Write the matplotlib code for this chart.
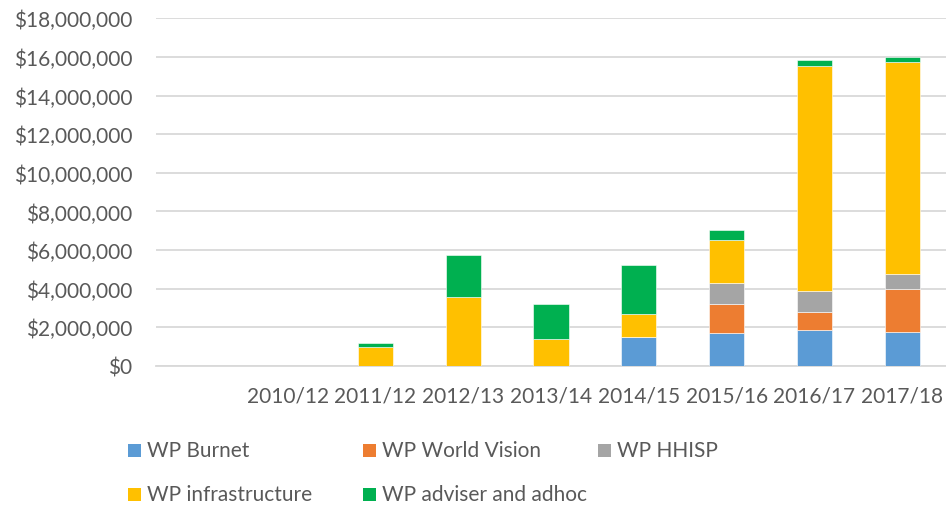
import numpy as np
import matplotlib.pyplot as plt
from matplotlib.patches import Rectangle
from matplotlib.ticker import FuncFormatter

# --- dados por ano (valores em $) ---
years = ["2010/12", "2011/12", "2012/13", "2013/14", "2014/15", "2015/16", "2016/17", "2017/18"]
burnet = [0, 0, 0, 0, 1510000, 1730000, 1870000, 1780000]
world_vision = [0, 0, 0, 0, 0, 1470000, 930000, 2220000]
hhisp = [0, 0, 0, 0, 0, 1090000, 1090000, 780000]
infrastructure = [0, 1000000, 3580000, 1400000, 1170000, 2230000, 11630000, 10960000]
adviser_adhoc = [0, 180000, 2150000, 1800000, 2560000, 520000, 330000, 230000]

series_names = ["WP Burnet", "WP World Vision", "WP HHISP", "WP infrastructure", "WP adviser and adhoc"]
series_vals = [burnet, world_vision, hhisp, infrastructure, adviser_adhoc]
colors = ["#5B9BD5", "#ED7D31", "#A5A5A5", "#FFC000", "#00B050"]

plt.rcParams['font.family'] = ['Lato', 'DejaVu Sans']
text_col = "#595959"
grid_col = "#D9D9D9"
fs = 15

fig = plt.figure(figsize=(9.46, 5.10), dpi=100)
ax = fig.add_axes([0.165, 0.2804, 0.835, 0.6818])

x = np.arange(len(years))
bottom = np.zeros(len(years))
for name, vals, c in zip(series_names, series_vals, colors):
    vals = np.array(vals, dtype=float)
    ax.bar(x, vals, 0.4, bottom=bottom, color=c, edgecolor="white", linewidth=0.4, label=name, zorder=3)
    bottom += vals

ax.set_xlim(-1.5, 7.5)
ax.set_ylim(0, 18000000)
ax.set_yticks(np.arange(0, 18000001, 2000000))
ax.yaxis.set_major_formatter(FuncFormatter(lambda v, p: f"${v:,.0f}"))
ax.set_xticks(x)
ax.set_xticklabels(years)

ax.grid(axis="y", color=grid_col, linewidth=1.3, zorder=0)
for s in ["top", "right", "left"]:
    ax.spines[s].set_visible(False)
ax.spines["bottom"].set_color(grid_col)
ax.spines["bottom"].set_linewidth(1.3)
ax.tick_params(axis="both", length=0, labelsize=fs, colors=text_col)
ax.tick_params(axis="y", pad=17)
ax.tick_params(axis="x", pad=14)

# legenda em grade 3 colunas, desenhada à mão
for i, (name, c) in enumerate(zip(series_names, colors)):
    col, row = i % 3, i // 3
    px = 128 + col * 235
    py = 451 + row * 44
    fig.patches.append(Rectangle((px / 946, 1 - (py + 6.5) / 510), 13 / 946, 13 / 510,
                                 transform=fig.transFigure, facecolor=c, edgecolor="none"))
    fig.text((px + 19) / 946, 1 - py / 510, name, fontsize=fs, color=text_col, va="center", ha="left")

fig.savefig("out.png", dpi=100)
